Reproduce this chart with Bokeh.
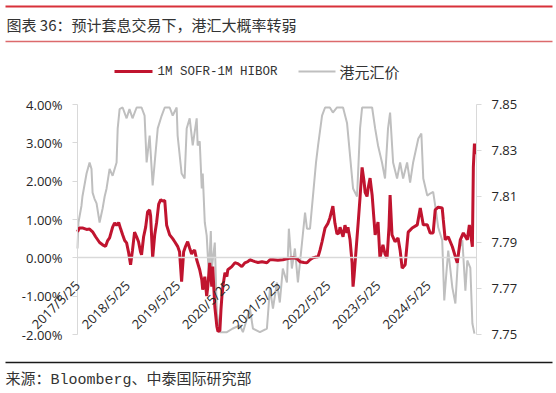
from math import pi
import pandas as pd
from bokeh.plotting import figure
from bokeh.models import (Range1d, LinearAxis, FixedTicker, PrintfTickFormatter)
from bokeh.embed import file_html
from bokeh.resources import INLINE
from bokeh.core.properties import value

# ---------------- data ----------------
title_text = "图表 36：预计套息交易下，港汇大概率转弱"
source_text = "来源：Bloomberg、中泰国际研究部"
series_names = ["1M SOFR-1M HIBOR", "港元汇价"]
x_tick_labels = ["2017/5/25", "2018/5/25", "2019/5/25", "2020/5/25",
                 "2021/5/25", "2022/5/25", "2023/5/25", "2024/5/25"]
left_ticks = [-2, -1, 0, 1, 2, 3, 4]
right_ticks = [7.75, 7.77, 7.79, 7.81, 7.83, 7.85]
left_lim = (-2, 4)
right_lim = (7.75, 7.85)
date_start, date_end = "2017-05-25", "2025-05-12"

spread_dates = [
    "2017-05-25", "2017-06-08", "2017-06-30", "2017-07-30", "2017-08-21", "2017-09-12",
    "2017-10-04", "2017-11-02", "2017-11-24", "2017-12-16", "2017-12-31", "2018-01-14",
    "2018-02-05", "2018-02-20", "2018-03-06", "2018-03-21", "2018-04-05", "2018-04-19",
    "2018-05-04", "2018-05-18", "2018-06-01", "2018-06-16", "2018-06-30", "2018-07-15",
    "2018-07-30", "2018-08-13", "2018-08-28", "2018-09-04", "2018-09-19", "2018-10-04",
    "2018-10-18", "2018-11-02", "2018-11-09", "2018-11-24", "2018-12-09", "2018-12-23",
    "2019-01-07", "2019-01-22", "2019-02-05", "2019-02-20", "2019-03-06", "2019-03-28",
    "2019-04-19", "2019-05-04", "2019-05-25", "2019-06-08", "2019-06-23", "2019-07-08",
    "2019-07-22", "2019-08-06", "2019-08-21", "2019-09-04", "2019-09-12", "2019-09-26",
    "2019-10-11", "2019-11-02", "2019-11-17", "2019-11-24", "2019-12-09", "2019-12-23",
    "2019-12-31", "2020-01-14", "2020-01-29", "2020-02-05", "2020-02-20", "2020-03-06",
    "2020-03-14", "2020-03-28", "2020-04-05", "2020-04-12", "2020-04-19", "2020-05-04",
    "2020-05-18", "2020-05-25", "2020-06-23", "2020-07-15", "2020-08-06", "2020-09-04",
    "2020-09-26", "2020-10-18", "2020-11-02", "2020-11-24", "2020-12-09", "2020-12-31",
    "2021-01-29", "2021-03-06", "2021-03-28", "2021-04-19", "2021-05-25", "2021-06-30",
    "2021-08-06", "2021-09-12", "2021-10-11", "2021-11-02", "2021-12-01", "2021-12-23",
    "2022-01-14", "2022-02-05", "2022-02-27", "2022-03-14", "2022-03-28", "2022-04-12",
    "2022-05-04", "2022-05-25", "2022-06-08", "2022-06-30", "2022-07-15", "2022-07-30",
    "2022-08-13", "2022-08-21", "2022-09-12", "2022-09-26", "2022-10-11", "2022-10-18",
    "2022-11-02", "2022-11-17", "2022-11-24", "2022-12-01", "2022-12-16", "2022-12-31",
    "2023-01-14", "2023-01-29", "2023-02-12", "2023-02-20", "2023-03-06", "2023-03-14",
    "2023-03-28", "2023-04-12", "2023-05-04", "2023-05-25", "2023-06-08", "2023-06-30",
    "2023-07-15", "2023-07-30", "2023-08-13", "2023-08-21", "2023-09-04", "2023-09-26",
    "2023-10-18", "2023-11-02", "2023-11-17", "2023-12-09", "2023-12-31", "2024-01-29",
    "2024-03-06", "2024-03-28", "2024-04-19", "2024-05-18", "2024-06-08", "2024-06-30",
    "2024-07-15", "2024-08-06", "2024-09-04", "2024-09-12", "2024-09-26", "2024-10-18",
    "2024-11-17", "2024-12-09", "2024-12-23", "2025-01-14", "2025-02-05", "2025-03-06",
    "2025-03-21", "2025-04-12", "2025-04-19", "2025-04-27", "2025-05-04",
]
spread_vals = [
    0.68, 0.78, 0.78, 0.74, 0.75, 0.68,
    0.55, 0.40, 0.34, 0.30, 0.45, 0.52,
    0.80, 0.91, 0.85, 0.92, 0.75, 0.60,
    0.45, 0.39, 0.15, -0.18, 0.20, 0.67,
    0.55, 0.42, 0.15, 0.08, 0.55, 0.80,
    1.20, 1.25, 1.10, 0.00, 0.60, 0.93,
    1.40, 1.52, 1.48, 1.50, 0.85, 0.60,
    0.50, 0.42, 0.30, 0.16, -0.62, 0.16,
    0.30, 0.42, 0.25, 0.10, 0.16, 0.20,
    -0.05, -0.31, -0.57, -0.83, -0.49, -1.00,
    -0.75, -0.13, -0.75, -0.23, -1.27, -1.79,
    -1.92, -1.90, -1.35, -1.00, -0.75, -0.39,
    -0.49, -0.31, -0.23, -0.13, -0.15, -0.23,
    -0.13, -0.10, -0.05, -0.08, -0.10, -0.12,
    -0.10, -0.13, -0.05, -0.05, -0.06, -0.05,
    -0.02, 0.00, -0.02, -0.10, -0.12, -0.13,
    -0.05, 0.00, 0.02, 0.03, 0.20, 0.42,
    0.78, 0.90, 1.04, 1.35, 0.90, 0.62,
    0.65, 0.80, 0.55, 0.85, 0.65, 0.80,
    0.47, -0.13, -0.75, -0.49, 0.21, 0.90,
    1.58, 2.36, 2.00, 1.71, 1.60, 1.82,
    2.08, 1.64, 0.60, 0.93, 0.00, 0.34,
    0.10, 0.00, 0.80, 1.64, 0.60, 0.42,
    0.52, 0.20, -0.27, -0.18, 0.67, 0.78,
    0.86, 1.30, 0.86, 0.86, 0.65, 0.65,
    1.25, 1.32, 1.30, 0.99, 0.47, 0.55,
    0.29, 0.03, -0.13, 0.47, 0.65, 0.47,
    0.86, 0.29, 2.36, 2.98, 2.70,
]

hkd_dates = [
    "2017-05-25", "2017-06-01", "2017-06-23", "2017-06-30", "2017-07-15", "2017-07-30",
    "2017-08-21", "2017-09-04", "2017-09-12", "2017-09-26", "2017-10-11", "2017-11-02",
    "2017-11-24", "2017-12-09", "2017-12-23", "2018-01-14", "2018-02-05", "2018-03-06",
    "2018-03-14", "2018-03-28", "2018-04-19", "2018-05-18", "2018-06-08", "2018-06-30",
    "2018-07-30", "2018-09-04", "2018-09-26", "2018-10-11", "2018-11-02", "2018-11-24",
    "2018-12-09", "2018-12-31", "2019-01-29", "2019-02-20", "2019-03-28", "2019-04-19",
    "2019-05-18", "2019-05-25", "2019-06-23", "2019-07-15", "2019-07-30", "2019-08-21",
    "2019-09-12", "2019-10-11", "2019-10-18", "2019-11-02", "2019-11-17", "2019-11-24",
    "2019-12-09", "2019-12-23", "2019-12-31", "2020-01-07", "2020-01-22", "2020-01-29",
    "2020-02-20", "2020-03-06", "2020-03-28", "2020-05-18", "2020-06-30", "2020-08-21",
    "2020-09-12", "2020-11-02", "2020-11-24", "2021-01-14", "2021-03-06", "2021-03-28",
    "2021-04-19", "2021-05-18", "2021-06-08", "2021-06-30", "2021-07-30", "2021-08-13",
    "2021-09-04", "2021-09-26", "2021-10-18", "2021-11-17", "2021-12-09", "2021-12-23",
    "2022-01-14", "2022-02-05", "2022-02-27", "2022-03-14", "2022-04-12", "2022-05-04",
    "2022-06-08", "2022-06-30", "2022-07-30", "2022-09-12", "2022-10-11", "2022-11-02",
    "2022-11-24", "2022-12-23", "2023-01-14", "2023-01-29", "2023-03-06", "2023-04-12",
    "2023-05-04", "2023-05-25", "2023-06-23", "2023-07-15", "2023-08-06", "2023-08-21",
    "2023-09-12", "2023-10-11", "2023-11-02", "2023-11-24", "2023-12-23", "2024-01-14",
    "2024-02-05", "2024-03-14", "2024-04-05", "2024-04-19", "2024-05-18", "2024-06-08",
    "2024-06-30", "2024-07-15", "2024-08-06", "2024-09-04", "2024-09-19", "2024-10-04",
    "2024-10-18", "2024-11-17", "2024-12-09", "2024-12-31", "2025-01-29", "2025-02-20",
    "2025-03-06", "2025-03-28", "2025-04-12", "2025-04-27",
]
hkd_vals = [
    7.7874, 7.7987, 7.8060, 7.8100, 7.8150, 7.8200,
    7.8248, 7.8220, 7.8117, 7.8090, 7.8070, 7.7987,
    7.8048, 7.8100, 7.8135, 7.8220, 7.8190, 7.8248,
    7.8396, 7.8480, 7.8487, 7.8440, 7.8480, 7.8440,
    7.8487, 7.8487, 7.8452, 7.8248, 7.8365, 7.8148,
    7.8248, 7.8396, 7.8452, 7.8487, 7.8487, 7.8452,
    7.8487, 7.8365, 7.8200, 7.8178, 7.8396, 7.8440,
    7.8322, 7.8440, 7.8322, 7.8340, 7.8135, 7.8200,
    7.7987, 7.7930, 7.7843, 7.7757, 7.7950, 7.7787,
    7.7900, 7.7596, 7.7510, 7.7510, 7.7526, 7.7540,
    7.7510, 7.7613, 7.7526, 7.7510, 7.7526, 7.7700,
    7.7613, 7.7726, 7.7639, 7.7787, 7.7726, 7.7960,
    7.7787, 7.7874, 7.7726, 7.7900, 7.8030, 7.7960,
    7.7960, 7.8104, 7.8248, 7.8322, 7.8452, 7.8487,
    7.8487, 7.8465, 7.8487, 7.8487, 7.8420, 7.8278,
    7.8135, 7.8100, 7.8396, 7.8487, 7.8487, 7.8487,
    7.8396, 7.8322, 7.8248, 7.8178, 7.8396, 7.8465,
    7.8248, 7.8178, 7.8248, 7.8178, 7.8248, 7.8160,
    7.8248, 7.8352, 7.8374, 7.8178, 7.8104, 7.8113,
    7.8120, 7.8060, 7.7965, 7.7910, 7.7648, 7.7765,
    7.7865, 7.7704, 7.7635, 7.7860, 7.7910, 7.7690,
    7.7822, 7.7790, 7.7548, 7.7504,
]

# ---------------- styles / layout ----------------
W = 556
RED = "#c0142f"
GRAY = "#bfbfbf"
AXIS = "#d9d9d9"
TXT = "#262626"
CJK = "Noto Sans CJK SC"
MONO_CJK = "'Liberation Mono', 'Noto Sans CJK SC'"
PLOT_LEFT, PLOT_RIGHT = 77, 476     # value-area edges (px)
PLOT_H = 230                         # value-area height (px)
PAD = 10                             # extra frame room above/below so labels are not clipped


def blank(h):
    f = figure(width=W, height=h, x_range=Range1d(0, W), y_range=Range1d(h, 0),
               min_border=0, toolbar_location=None, output_backend="svg",
               x_axis_location=None, y_axis_location=None)
    f.grid.visible = False
    f.outline_line_color = None
    return f


def padded(lo, hi):
    d = (hi - lo) * PAD / PLOT_H
    return Range1d(lo - d, hi + d)


# header
head = blank(88)
head.segment(x0=[5], y0=[6], x1=[552], y1=[6], line_color="#d8313a", line_width=2)
head.text(x=[6], y=[24], text=[title_text], text_font=value(CJK),
          text_font_size="15px", text_baseline="middle", text_color="#333333")
head.segment(x0=[5], y0=[41], x1=[552], y1=[41], line_color="#dc6a6c", line_width=1.5)
head.segment(x0=[114], y0=[71], x1=[152], y1=[71], line_color=RED, line_width=3)
head.text(x=[157], y=[71], text=[series_names[0]], text_font=value("Liberation Mono"),
          text_font_size="12.5px", text_baseline="middle", text_color="#333333")
head.segment(x0=[298], y0=[71], x1=[335], y1=[71], line_color=GRAY, line_width=2)
head.text(x=[339], y=[71], text=[series_names[1]], text_font=value(CJK),
          text_font_size="15px", text_baseline="middle", text_color="#333333")

# main chart
sd = pd.to_datetime(spread_dates)
hd = pd.to_datetime(hkd_dates)
td = pd.to_datetime(x_tick_labels, format="%Y/%m/%d")
tick_ms = [float(t.value // 10**6) for t in td]
t0, t1 = pd.Timestamp(date_start), pd.Timestamp(date_end)
t0_ms, t1_ms = float(t0.value // 10**6), float(t1.value // 10**6)
# frame starts at the canvas edge so the slanted labels are not clipped;
# the value axis is pinned at the first date
x_lo = t0 - (t1 - t0) * PLOT_LEFT / (PLOT_RIGHT - PLOT_LEFT)

p = figure(width=W, height=264, x_axis_type="datetime",
           x_range=Range1d(start=x_lo, end=t1), y_range=padded(*left_lim),
           min_border_left=0, min_border_right=W - PLOT_RIGHT,
           min_border_top=16 - PAD, min_border_bottom=18 - PAD,
           toolbar_location=None, output_backend="svg",
           x_axis_location=None, y_axis_location=None)
p.grid.visible = False
p.outline_line_color = None
p.extra_y_ranges = {"hkd": padded(*right_lim)}


def style_axis(ax):
    ax.axis_line_color = AXIS
    ax.major_tick_line_color = AXIS
    ax.major_tick_in = 0
    ax.major_tick_out = 5
    ax.minor_tick_line_color = None
    ax.major_label_text_font = "Open Sans"
    ax.major_label_text_font_size = "13px"
    ax.major_label_text_color = TXT
    ax.major_label_standoff = 10


ly = LinearAxis(fixed_location=t0_ms, bounds=left_lim, ticker=FixedTicker(ticks=left_ticks),
                formatter=PrintfTickFormatter(format="%.2f%%"))
style_axis(ly)
p.add_layout(ly, "left")

ry = LinearAxis(y_range_name="hkd", bounds=right_lim, ticker=FixedTicker(ticks=right_ticks),
                formatter=PrintfTickFormatter(format="%.2f"))
style_axis(ry)
p.add_layout(ry, "right")

p.line(x=hd, y=hkd_vals, y_range_name="hkd", line_color=GRAY, line_width=2)
p.line(x=sd, y=spread_vals, line_color=RED, line_width=3)

# category axis crossing at 0.00%
xa = LinearAxis(fixed_location=0, bounds=(t0_ms, t1_ms),
                ticker=FixedTicker(ticks=tick_ms),
                major_label_overrides=dict(zip(tick_ms, x_tick_labels)),
                major_label_orientation=pi / 4)
style_axis(xa)
xa.axis_line_width = 1.5
xa.major_tick_line_color = None
xa.major_label_text_font_size = "13px"
xa.major_label_standoff = 20
xa.level = "overlay"
p.add_layout(xa, "below")

# footer
foot = blank(41)
foot.segment(x0=[5], y0=[10], x1=[552], y1=[10], line_color="#1a1a1a", line_width=1.5)
foot.text(x=[5], y=[28], text=[source_text], text_font=value(MONO_CJK),
          text_font_size="15px", text_baseline="middle", text_color="#333333")

open("out.html", "w").write(file_html([head, p, foot], INLINE))
